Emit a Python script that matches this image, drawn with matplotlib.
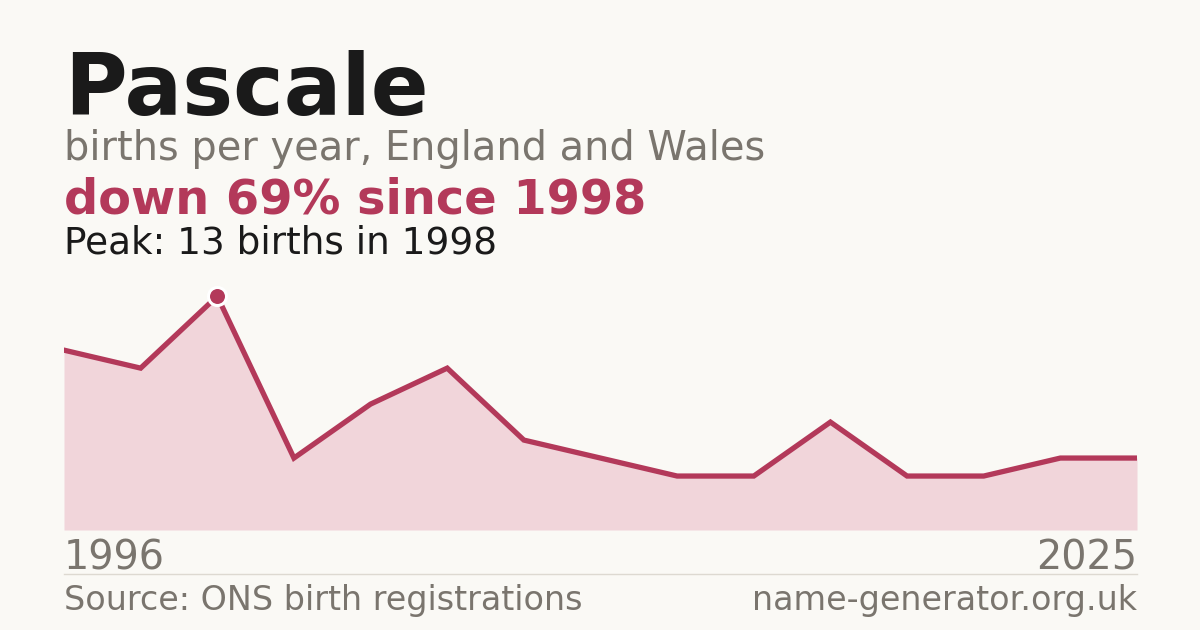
import numpy as np
import matplotlib
matplotlib.use("Agg")
import matplotlib.pyplot as plt

# data
years = [1996, 1997, 1998, 1999, 2000, 2001, 2002, None, 2005, 2008, 2011, 2014, 2017, 2021, 2025]
births = [10, 9, 13, 4, 7, 9, 5, np.nan, 3, 3, 6, 3, 3, 4, 4]
first_label = "1996"
last_label = "2025"

BG = "#faf9f5"
RED = "#b3395a"
FILL = "#f1d5da"
GRAY = "#7a756e"
DARK = "#1a1a1a"

fig = plt.figure(figsize=(12, 6.3), dpi=100, facecolor=BG)
W, H = 1200, 630

x = np.arange(len(births), dtype=float)
y = np.array(births, dtype=float)
mask = ~np.isnan(y)
xv, yv = x[mask], y[mask]

ax = fig.add_axes([64 / W, 100 / H, (1137 - 64) / W, 250 / H])
ax.set_facecolor(BG)
ax.fill_between(xv, 0, yv, color=FILL, lw=0, zorder=1)
ax.plot(xv, yv, color=RED, lw=3.8, solid_joinstyle="miter", zorder=2)
pk = int(np.nanargmax(y))
ax.plot([x[pk]], [y[pk]], "o", ms=13, color=RED, mec="white", mew=2.2, zorder=3)
ax.set_xlim(x[0], x[-1])
ax.set_ylim(0, 13.9)
ax.axis("off")

def t(px, py, s, size, color, weight="normal", ha="left"):
    fig.text(px / W, 1 - py / H, s, fontsize=size, color=color, fontweight=weight,
             ha=ha, va="baseline", family="DejaVu Sans")

t(64, 115, "Pascale", 61.6, DARK, "bold")
t(64, 160, "births per year, England and Wales", 28.7, GRAY)
t(64, 214, "down 69% since 1998", 34.5, RED, "bold")
t(64, 253, "Peak: 13 births in 1998", 26.9, DARK)
t(64, 570, first_label, 28.6, GRAY)
t(1137, 570, last_label, 28.6, GRAY, ha="right")
t(64, 610, "Source: ONS birth registrations", 24, GRAY)
t(1137, 610, "name-generator.org.uk", 24, GRAY, ha="right")

fig.add_artist(plt.Line2D([64 / W, 1137 / W], [1 - 574 / H, 1 - 574 / H],
                          color="#ddd9d1", lw=1, transform=fig.transFigure))

fig.savefig("out.png", dpi=100, facecolor=BG)
